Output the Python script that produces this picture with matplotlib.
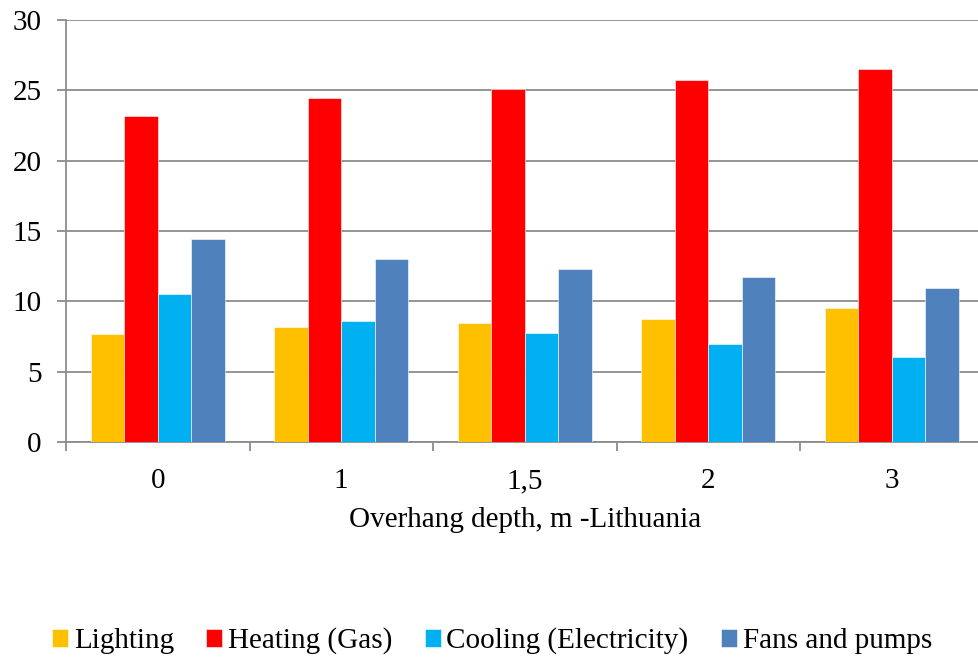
import matplotlib
matplotlib.use("Agg")
import matplotlib.pyplot as plt
import numpy as np

categories = ["0", "1", "1,5", "2", "3"]
lighting = [7.68, 8.2, 8.46, 8.77, 9.52]
heating = [23.15, 24.45, 25.09, 25.73, 26.51]
cooling = [10.5, 8.58, 7.75, 6.99, 6.07]
fans_pumps = [14.45, 12.98, 12.32, 11.73, 10.97]

series_names = ["Lighting", "Heating (Gas)", "Cooling (Electricity)", "Fans and pumps"]
series_values = [lighting, heating, cooling, fans_pumps]
colors = ["#FFC000", "#FF0000", "#00B0F0", "#4F81BD"]

plt.rcParams["font.family"] = ["Liberation Serif", "DejaVu Serif"]

W, H = 979, 659
FS = 21
fig = plt.figure(figsize=(W / 100, H / 100), dpi=100)
ax = fig.add_axes([66 / W, (H - 442) / H, 917.5 / W, 422 / H])

x = np.arange(len(categories))
bw = 0.182
for i, (name, vals, c) in enumerate(zip(series_names, series_values, colors)):
    ax.bar(x + (i - 1.5) * bw, vals, width=bw, color=c, label=name,
           edgecolor="white", linewidth=0.4, zorder=3)

grid_color = "#8C8C8C"
ax.set_ylim(0, 30)
ax.set_yticks(range(0, 31, 5))
ax.set_xlim(-0.5, len(categories) - 0.5)
ax.set_xticks(x)
ax.set_xticklabels(categories)
ax.set_xticks(np.arange(-0.5, len(categories), 1.0), minor=True)
ax.yaxis.grid(True, color=grid_color, linewidth=1.3, zorder=0)
ax.set_axisbelow(True)

for s in ["top", "right"]:
    ax.spines[s].set_visible(False)
for s in ["left", "bottom"]:
    ax.spines[s].set_color(grid_color)
    ax.spines[s].set_linewidth(1.3)

ax.tick_params(axis="y", length=6.5, width=1.3, color=grid_color, pad=11,
               labelsize=FS, labelcolor="black")
ax.tick_params(axis="x", which="major", length=0, pad=19, labelsize=FS)
ax.tick_params(axis="x", which="minor", length=6.5, width=1.3, color=grid_color)

ax.set_xlabel("Overhang depth, m -Lithuania", fontsize=FS, labelpad=9)

fig.legend(loc="center", bbox_to_anchor=(492 / W, 1 - 641 / H), ncol=4,
           frameon=False, fontsize=FS, handlelength=0.55, handleheight=0.55,
           handletextpad=0.2, columnspacing=1.1, borderaxespad=0)

fig.savefig("out.png", dpi=100)
